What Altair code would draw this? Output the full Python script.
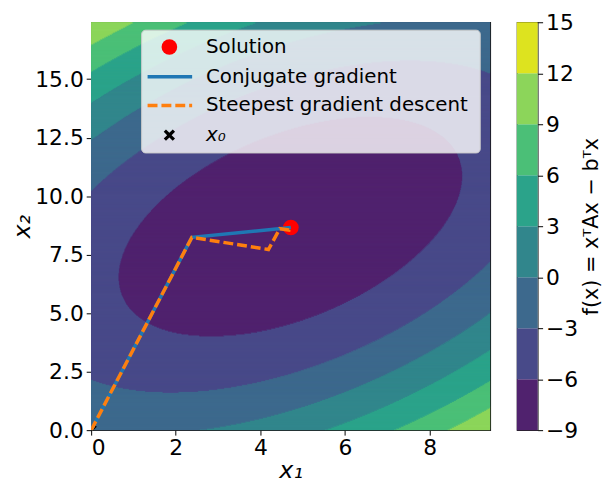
import numpy as np
import pandas as pd
import altair as alt

# ---- values ----
A = [[0.18, -0.0718], [-0.0718, 0.1347]]
b = [0.446, 1.671]
x_range = [0.0, 9.43]
y_range = [0.0, 17.43]
levels = [-9, -6, -3, 0, 3, 6, 9, 12, 15]
band_colors = ["#50226e", "#484a89", "#3d698d", "#31868c",
               "#2ba38a", "#4bbf77", "#8cd55a", "#dde31f"]

solution = [4.72, 8.66]
cg_x = [0.0, 2.38, 4.72]
cg_y = [0.0, 8.24, 8.66]
sd_x = [0.0, 2.38, 4.19, 4.46, 4.68, 4.72]
sd_y = [0.0, 8.24, 7.72, 8.61, 8.55, 8.66]
start_point = [0.0, 0.0]

legend_labels = ["Solution", "Conjugate gradient", "Steepest gradient descent", "x₀"]
x_ticks = [0, 2, 4, 6, 8]
y_ticks = [0, 2.5, 5, 7.5, 10, 12.5, 15]
cbar_ticks = [-9, -6, -3, 0, 3, 6, 9, 12, 15]

W, H = 403, 412
CB_W = 21
FONT = "DejaVu Sans"
X_SHAPE = "M-1,-0.6L-0.6,-1L0,-0.4L0.6,-1L1,-0.6L0.4,0L1,0.6L0.6,1L0,0.4L-0.6,1L-1,0.6L-0.4,0Z"

# ---- filled contour bands (row-wise runs) ----
Am = np.array(A)
bv = np.array(b)
ny, nx = H, 2 * W
y_edges = np.linspace(y_range[0], y_range[1], ny + 1)
x_edges = np.linspace(x_range[0], x_range[1], nx + 1)
xc = (x_edges[:-1] + x_edges[1:]) / 2
eps = (y_range[1] - y_range[0]) / H * 1.0
recs = []
for i in range(ny):
    yc = (y_edges[i] + y_edges[i + 1]) / 2
    f = Am[0, 0] * xc ** 2 + 2 * Am[0, 1] * xc * yc + Am[1, 1] * yc ** 2 - bv[0] * xc - bv[1] * yc
    band = np.clip(np.searchsorted(levels, f, side="right") - 1, 0, len(band_colors) - 1)
    s = 0
    for j in range(1, nx + 1):
        if j == nx or band[j] != band[s]:
            recs.append((x_edges[s], x_edges[j], y_edges[i],
                         min(y_edges[i + 1] + eps, y_range[1]), int(band[s])))
            s = j
field = pd.DataFrame(recs, columns=["xa", "xb", "ya", "yb", "band"])

xs = alt.Scale(domain=x_range, nice=False, zero=False)
ys = alt.Scale(domain=y_range, nice=False, zero=False)
cs = alt.Scale(domain=list(range(len(band_colors))), range=band_colors)

contour = alt.Chart(field).mark_rect(strokeWidth=0.8, clip=True).encode(
    x=alt.X("xa:Q", scale=xs, axis=alt.Axis(values=x_ticks, format="d", title="x₁",
                                             titleFontSize=24, titleFontStyle="italic",
                                             titlePadding=0, labelPadding=3)),
    x2="xb:Q",
    y=alt.Y("ya:Q", scale=ys, axis=alt.Axis(values=y_ticks, format=".1f", title="x₂",
                                             titleFontSize=24, titleFontStyle="italic",
                                             titlePadding=0, labelPadding=3)),
    y2="yb:Q",
    color=alt.Color("band:O", scale=cs, legend=None),
    stroke=alt.Stroke("band:O", scale=cs, legend=None),
)

cg_df = pd.DataFrame({"x": cg_x, "y": cg_y, "i": range(len(cg_x))})
sd_df = pd.DataFrame({"x": sd_x, "y": sd_y, "i": range(len(sd_x))})
sol_df = pd.DataFrame({"x": [solution[0]], "y": [solution[1]]})
x0_df = pd.DataFrame({"x": [start_point[0]], "y": [start_point[1]]})

sol = alt.Chart(sol_df).mark_circle(color="red", size=250, opacity=1).encode(
    x=alt.X("x:Q", scale=xs), y=alt.Y("y:Q", scale=ys))
x0m = alt.Chart(x0_df).mark_point(shape=X_SHAPE, filled=True, color="black", size=130,
                                  opacity=1, clip=True).encode(
    x=alt.X("x:Q", scale=xs), y=alt.Y("y:Q", scale=ys))
cg = alt.Chart(cg_df).mark_line(color="#1f77b4", strokeWidth=3.5, clip=True).encode(
    x=alt.X("x:Q", scale=xs), y=alt.Y("y:Q", scale=ys), order="i:Q")
sd = alt.Chart(sd_df).mark_line(color="#ff7f0e", strokeWidth=3.5, strokeDash=[10, 4],
                                clip=True).encode(
    x=alt.X("x:Q", scale=xs), y=alt.Y("y:Q", scale=ys), order="i:Q")

# ---- legend box ----
one = pd.DataFrame({"a": [0]})
leg_bg = alt.Chart(one).mark_rect(color="white", fillOpacity=0.8, stroke="#cccccc",
                                  strokeWidth=1, cornerRadius=4).encode(
    x=alt.value(51), x2=alt.value(393), y=alt.value(8), y2=alt.value(132))
row_y = [25, 55, 84, 114]
leg_layers = [leg_bg]
leg_layers.append(alt.Chart(one).mark_circle(color="red", size=250, opacity=1).encode(
    x=alt.value(79), y=alt.value(row_y[0])))
leg_layers.append(alt.Chart(one).mark_rule(color="#1f77b4", strokeWidth=3.5).encode(
    x=alt.value(57), x2=alt.value(102), y=alt.value(row_y[1])))
leg_layers.append(alt.Chart(one).mark_rule(color="#ff7f0e", strokeWidth=3.5,
                                           strokeDash=[10, 4]).encode(
    x=alt.value(57), x2=alt.value(102), y=alt.value(row_y[2])))
leg_layers.append(alt.Chart(one).mark_point(shape=X_SHAPE, filled=True, color="black",
                                            size=130, opacity=1).encode(
    x=alt.value(79), y=alt.value(row_y[3])))
for k, lab in enumerate(legend_labels):
    leg_layers.append(alt.Chart(pd.DataFrame({"t": [lab]})).mark_text(
        align="left", baseline="middle", fontSize=20, font=FONT, color="black",
        fontStyle="italic" if k == 3 else "normal").encode(
        x=alt.value(116), y=alt.value(row_y[k]), text="t:N"))

main = alt.layer(contour, x0m, sol, cg, sd, *leg_layers).properties(width=W, height=H)

# ---- colorbar ----
cb_df = pd.DataFrame({"lo": levels[:-1], "hi": levels[1:], "band": range(len(band_colors))})
cbar = alt.Chart(cb_df).mark_rect(strokeWidth=0).encode(
    x=alt.value(0), x2=alt.value(CB_W),
    y=alt.Y("lo:Q", scale=alt.Scale(domain=[levels[0], levels[-1]], nice=False, zero=False),
            axis=alt.Axis(orient="right", values=cbar_ticks, format="d",
                          labelExpr="replace(datum.label, '-', '−')",
                          title="f(x) = xᵀAx − bᵀx", titleAngle=270,
                          titleBaseline="top", titleFontSize=21, titlePadding=3,
                          labelPadding=3)),
    y2="hi:Q",
    color=alt.Color("band:O", scale=cs, legend=None),
).properties(width=CB_W, height=H)

chart = alt.hconcat(main, cbar, spacing=25).properties(
    padding={"left": 2, "top": 0, "right": 0, "bottom": 0}
).configure_view(stroke="#222222", strokeWidth=1.1).configure_axis(
    labelFont=FONT, labelFontSize=22, labelColor="black", tickColor="black",
    tickSize=5, tickWidth=1, titleFont=FONT, titleColor="black",
    titleFontWeight="normal", domain=False, grid=False)

chart.save("out.html", embed_options={"renderer": "svg", "actions": False})
